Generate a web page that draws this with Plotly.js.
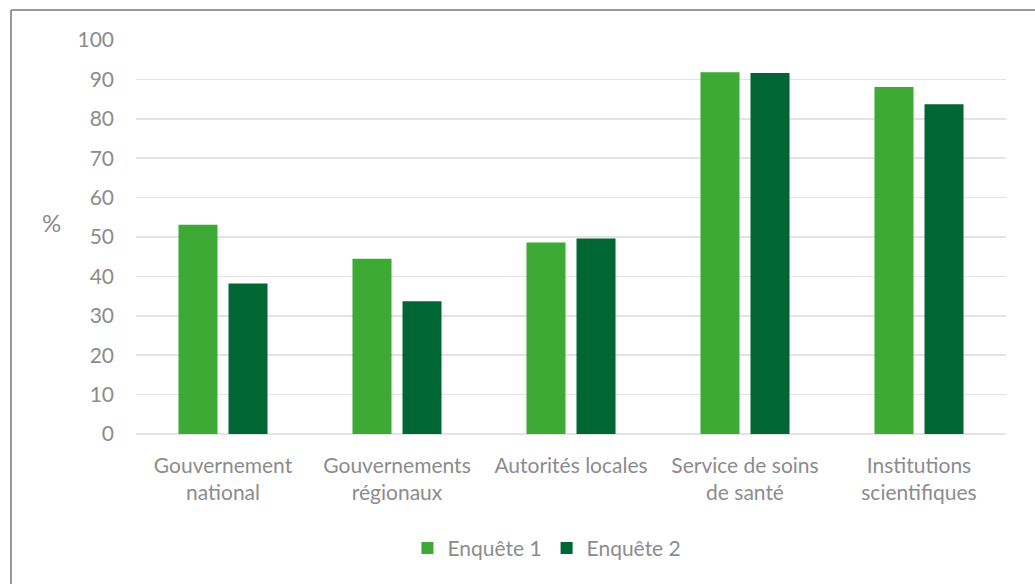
<!DOCTYPE html>
<html>
<head>
<meta charset="utf-8">
<script src="https://cdn.plot.ly/plotly-3.0.1.min.js"></script>
<style>
  html, body { margin: 0; padding: 0; background: #fff; }
  #chart { width: 1035px; height: 584px; }
</style>
</head>
<body>
<div id="chart"></div>
<script>
const categories = [
  "Gouvernement<br>national",
  "Gouvernements<br>régionaux",
  "Autorités locales",
  "Service de soins<br>de santé",
  "Institutions<br>scientifiques"
];
const seriesNames = ["Enquête 1", "Enquête 2"];
const enquete1 = [53.1, 44.5, 48.6, 91.8, 88.1];
const enquete2 = [38.2, 33.7, 49.6, 91.6, 83.7];
const yTicks = [0, 10, 20, 30, 40, 50, 60, 70, 80, 90, 100];

const textColor = "#8c8c8c";
const font = { family: "Lato, 'Open Sans', sans-serif", size: 21, color: textColor };

const traces = [
  { type: "bar", name: seriesNames[0], x: categories, y: enquete1,
    marker: { color: "#3daa35" }, hoverinfo: "y" },
  { type: "bar", name: seriesNames[1], x: categories, y: enquete2,
    marker: { color: "#006633" }, hoverinfo: "y" }
];

const layout = {
  width: 1035, height: 584,
  margin: { l: 136, r: 29, t: 40, b: 150 },
  paper_bgcolor: "#fff", plot_bgcolor: "#fff",
  font: font,
  barmode: "group",
  bargap: 0.425,
  bargroupgap: 0.22,
  showlegend: true,
  legend: {
    orientation: "h", x: 0.312, xanchor: "left", y: -0.29, yanchor: "middle",
    font: font, itemwidth: 30, traceorder: "normal"
  },
  xaxis: {
    type: "category", showgrid: false, showline: false, ticks: "",
    ticklabelstandoff: 17,
    tickfont: font, fixedrange: true
  },
  yaxis: {
    range: [0, 100], tickvals: yTicks, ticktext: yTicks.map(String),
    showgrid: true, gridcolor: "#e3e3e3", gridwidth: 1.5,
    zeroline: true, zerolinecolor: "#e3e3e3", zerolinewidth: 1.5,
    showline: false, ticks: "", ticklabelstandoff: 21,
    tickfont: font, fixedrange: true
  },
  annotations: [
    { text: "%", xref: "paper", yref: "paper", x: -0.0966, y: 0.538,
      xanchor: "center", yanchor: "middle", showarrow: false,
      font: { family: font.family, size: 24, color: textColor } }
  ],
  shapes: [
    { type: "line", xref: "paper", yref: "paper", x0: -0.1437, x1: 1.2, y0: 1.0762, y1: 1.0762,
      line: { color: "#999999", width: 2 } },
    { type: "line", xref: "paper", yref: "paper", x0: -0.1437, x1: -0.1437, y0: 1.0762, y1: -0.5,
      line: { color: "#999999", width: 2 } }
  ]
};

Plotly.newPlot("chart", traces, layout, { displayModeBar: false, staticPlot: true });
</script>
</body>
</html>
